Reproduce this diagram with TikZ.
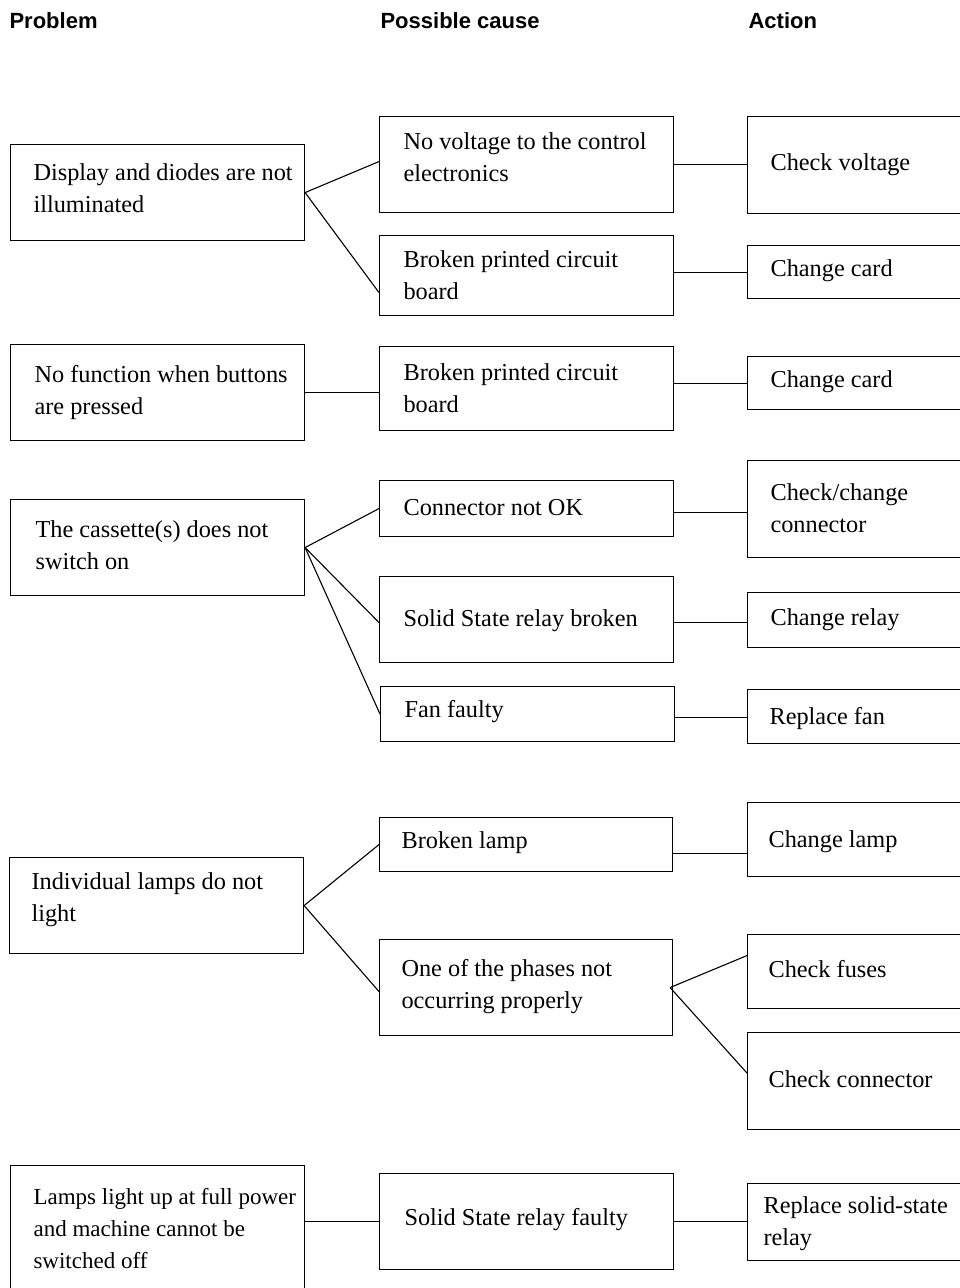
\documentclass[tikz,border=0pt]{standalone}
\usepackage{fontspec}
\setmainfont{Liberation Serif}
\setsansfont{Liberation Sans}
\usetikzlibrary{calc}

\begin{document}
\begin{tikzpicture}[x=1pt,y=-1pt,line width=1.1pt,
      box/.style={draw,anchor=north west,inner sep=0pt,minimum width=294pt},
      abox/.style={box,minimum width=260pt},
      txt/.style={anchor=west,align=left,inner sep=0pt,font=\fontsize{24.3}{32}\selectfont},
      head/.style={anchor=west,inner sep=0pt,font=\sffamily\bfseries\fontsize{22}{26}\selectfont}]
      \clip (0,0) rectangle (960,1288);
      % column heads
      \node[head](hprob) at (9,21) {Problem};
      \node[head](hcause) at (380,21) {Possible cause};
      \node[head](hact) at (748,21) {Action};
      % problems
      \node[box,minimum height=96pt](p1) at (10,144) {};
      \node[box,minimum height=96pt](p2) at (10,344) {};
      \node[box,minimum height=96pt](p3) at (10,499) {};
      \node[box,minimum height=96pt](p4) at (9,857) {};
      \node[box,minimum height=140pt](p5) at (10,1165) {};
      % causes
      \node[box,minimum height=96pt](c1) at (379,116) {};
      \node[box,minimum height=80pt](c2) at (379,235) {};
      \node[box,minimum height=84pt](c3) at (379,346) {};
      \node[box,minimum height=56pt](c4) at (379,480) {};
      \node[box,minimum height=86pt](c5) at (379,576) {};
      \node[box,minimum height=55pt](c6) at (380,686) {};
      \node[box,minimum height=54pt,minimum width=293pt](c7) at (379,817) {};
      \node[box,minimum height=96pt,minimum width=293pt](c8) at (379,939) {};
      \node[box,minimum height=96pt](c9) at (379,1173) {};
      % actions
      \node[abox,minimum height=97pt](a1) at (747,116) {};
      \node[abox,minimum height=53pt](a2) at (747,245) {};
      \node[abox,minimum height=53pt](a3) at (747,356) {};
      \node[abox,minimum height=97pt](a4) at (747,460) {};
      \node[abox,minimum height=55pt](a5) at (747,592) {};
      \node[abox,minimum height=54pt](a6) at (747,689) {};
      \node[abox,minimum height=74pt](a7) at (747,802) {};
      \node[abox,minimum height=74pt](a8) at (747,934) {};
      \node[abox,minimum height=97pt](a9) at (747,1032) {};
      \node[abox,minimum height=77pt](a10) at (747,1183) {};
      % texts
      \node[txt](p1t) at ([xshift=23pt,yshift=4pt]p1.west) {Display and diodes are not\\illuminated};
      \node[txt](p2t) at ([xshift=24pt]p2.west) {No function when buttons\\are pressed};
      \node[txt](p3t) at ([xshift=25pt,yshift=2pt]p3.west) {The cassette(s) does not\\switch on};
      \node[txt](p4t) at ([xshift=22pt,yshift=6pt]p4.west) {Individual lamps do not\\light};
      \node[txt,font=\fontsize{23}{32}\selectfont](p5t) at ([xshift=23pt,yshift=7pt]p5.west) {Lamps light up at full power\\and machine cannot be\\switched off};
      \node[txt](c1t) at ([xshift=24pt,yshift=7pt]c1.west) {No voltage to the control\\electronics};
      \node[txt](c2t) at ([xshift=24pt]c2.west) {Broken printed circuit\\board};
      \node[txt](c3t) at ([xshift=24pt]c3.west) {Broken printed circuit\\board};
      \node[txt](c4t) at ([xshift=24pt,yshift=1pt]c4.west) {Connector not OK};
      \node[txt](c5t) at ([xshift=24pt,yshift=-1pt]c5.west) {Solid State relay broken};
      \node[txt](c6t) at ([xshift=24pt,yshift=2pt]c6.west) {Fan faulty};
      \node[txt](c7t) at ([xshift=22pt,yshift=2pt]c7.west) {Broken lamp};
      \node[txt](c8t) at ([xshift=22pt,yshift=1pt]c8.west) {One of the phases not\\occurring properly};
      \node[txt](c9t) at ([xshift=25pt,yshift=2pt]c9.west) {Solid State relay faulty};
      \node[txt](a1t) at ([xshift=23pt]a1.west) {Check voltage};
      \node[txt](a2t) at ([xshift=23pt,yshift=1pt]a2.west) {Change card};
      \node[txt](a3t) at ([xshift=23pt,yshift=1pt]a3.west) {Change card};
      \node[txt](a4t) at ([xshift=23pt,yshift=1pt]a4.west) {Check/change\\connector};
      \node[txt](a5t) at ([xshift=23pt]a5.west) {Change relay};
      \node[txt](a6t) at ([xshift=22pt,yshift=-2pt]a6.west) {Replace fan};
      \node[txt](a7t) at ([xshift=21pt,yshift=-2pt]a7.west) {Change lamp};
      \node[txt](a8t) at ([xshift=21pt,yshift=2pt]a8.west) {Check fuses};
      \node[txt](a9t) at ([xshift=21pt,yshift=2pt]a9.west) {Check connector};
      \node[txt](a10t) at ([xshift=16pt,yshift=-2pt]a10.west) {Replace solid-state\\relay};
      % problem -> cause
      \draw(p1.east)--([yshift=3pt]c1.west);
      \draw(p1.east)--([yshift=-17pt]c2.west);
      \draw(p2.east)--(p2.east-|c3.west);
      \draw(p3.east)--(c4.west);
      \draw(p3.east)--([yshift=-3pt]c5.west);
      \draw(p3.east)--(c6.west);
      \draw(p4.east)--(c7.west);
      \draw(p4.east)--([yshift=-4pt]c8.west);
      \draw(c9.west-|p5.east)--(c9.west);
      % cause -> action
      \draw(c1.east)--(c1.east-|a1.west);
      \draw(c2.east|-a2.west)--(a2.west);
      \draw(c3.east|-a3.west)--(a3.west);
      \draw([yshift=-4pt]c4.east)--([yshift=-4pt]c4.east-|a4.west);
      \draw([yshift=-3pt]c5.east)--([yshift=-3pt]c5.east-|a5.west);
      \draw([yshift=-3pt]c6.east)--([yshift=-3pt]c6.east-|a6.west);
      \draw([yshift=-9pt]c7.east)--([yshift=-9pt]c7.east-|a7.west);
      \draw([xshift=-3pt]c8.east)--([yshift=16pt]a8.west);
      \draw([xshift=-3pt]c8.east)--([yshift=8pt]a9.west);
      \draw(c9.east)--(c9.east-|a10.west);
    \end{tikzpicture}
\end{document}
